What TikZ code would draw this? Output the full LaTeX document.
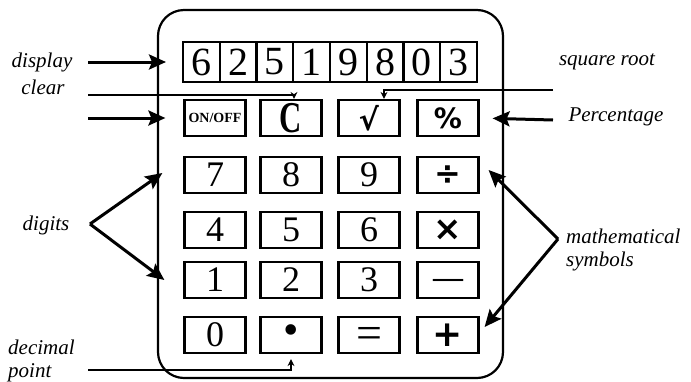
\documentclass[tikz,border=0pt]{standalone}
\usepackage{amsmath,amsfonts,graphicx}
\usepackage{xcolor}
\usepackage{fontspec}
\setmainfont{Liberation Serif}
\newfontfamily\symfont{DejaVu Sans}
\usepackage{tikz}
\usetikzlibrary{shapes.geometric, arrows.meta}
\tikzstyle{calcbody} = [rectangle, rounded corners=26pt, minimum width=345pt, minimum height=368pt, draw=black, line width=2.2pt]
\tikzstyle{cell} = [rectangle, minimum width=36.75pt, minimum height=40pt, inner sep=0pt, draw=black, line width=2pt, font=\fontsize{40}{40}\selectfont]
\tikzstyle{key} = [rectangle, minimum width=61pt, minimum height=36pt, inner sep=0pt, draw=black, line width=2.2pt, font=\fontsize{36}{36}\selectfont]
\tikzstyle{symkey} = [key, font=\symfont\bfseries\fontsize{28}{28}\selectfont]
\tikzstyle{lbl} = [inner sep=0pt, font=\itshape\fontsize{21}{23}\selectfont]
\tikzset{
  arrow/.style={line width=3pt, -{Stealth[length=17pt,width=15pt,inset=3pt]}},
  thinarrow/.style={line width=2.2pt, -{Stealth[length=7pt,width=7pt]}},
}

\begin{document}
\begin{tikzpicture}[x=1pt, y=-1pt]
\useasboundingbox (0,0) rectangle (691,381);
\node (body) [calcbody] at (330.5,194) {};

% display
\node (d1) [cell] at (201.4,62) {6};
\node (d2) [cell] at (238.1,62) {2};
\node (d3) [cell] at (274.9,62) {5};
\node (d4) [cell] at (311.6,62) {1};
\node (d5) [cell] at (348.4,62) {9};
\node (d6) [cell] at (385.1,62) {8};
\node (d7) [cell] at (421.9,62) {0};
\node (d8) [cell] at (458.6,62) {3};

% keys
\node (onoff) [key] at (215,118) {\bfseries\fontsize{14}{14}\selectfont ON/OFF};
\node (clr) [key] at (291,118) {\bfseries\scalebox{0.7}[1]{\fontsize{44}{44}\selectfont C}};
\node (sqrt) [symkey] at (369,118) {\fontsize{30}{30}\selectfont √};
\node (pct) [symkey] at (448,118) {\%};
\node (seven) [key] at (215,175) {7};
\node (eight) [key] at (291,175) {8};
\node (nine) [key] at (369,175) {9};
\node (div) [symkey] at (448,175) {\fontsize{32}{32}\selectfont ÷};
\node (four) [key] at (215,230) {4};
\node (five) [key] at (291,230) {5};
\node (six) [key] at (369,230) {6};
\node (times) [symkey] at (448,230) {\fontsize{34}{34}\selectfont ×};
\node (one) [key] at (215,280) {1};
\node (two) [key] at (291,280) {2};
\node (three) [key] at (369,280) {3};
\node (minus) [key] at (448,280) {\raisebox{-7pt}[0pt][0pt]{\bfseries\fontsize{30}{30}\selectfont —}};
\node (zero) [key] at (215,335) {0};
\node (point) [key] at (291,335) {\fontsize{44}{44}\selectfont •};
\node (equals) [key] at (369,335) {\raisebox{-13pt}[0pt][0pt]{\fontsize{46}{46}\selectfont =}};
\node (plus) [symkey] at (448,335) {\fontsize{36}{36}\selectfont +};

% labels
\node (display) [lbl] at (42,62) {display};
\node (clear) [lbl] at (43,87) {clear};
\node (sqroot) [lbl] at (607,62) {square root};
\node (percent) [lbl] at (616,117) {Percentage};
\node (digits) [lbl] at (46,225) {digits};
\node (mathsym) [lbl, anchor=west, align=left] at (566,250) {mathematical\\symbols};
\node (decimal) [lbl, anchor=west, align=left] at (8,361) {decimal\\point};

\coordinate (dispstart) at (88,62);
\coordinate (clearstart) at (88,95);
\coordinate (onoffstart) at (88,118);
\coordinate (sqrtstart) at (553,90);
\coordinate (pctstart) at (553,120);
\coordinate (digapex) at (90,224);
\coordinate (mathapex) at (558,239);
\coordinate (decstart) at (88,370);

\draw [arrow, shorten >=16pt] (dispstart) -- (d1.west);
\draw [thinarrow] (clearstart) -| ([xshift=3pt]clr.north);
\draw [arrow, shorten >=18pt] (onoffstart) -- (onoff.west);
\draw [thinarrow] (sqrtstart) -| ([xshift=15pt]sqrt.north);
\draw [arrow, shorten >=13pt] (pctstart) -- (pct.east);
\draw [arrow] (digapex) -- ([xshift=-21pt,yshift=2pt]seven.west);
\draw [arrow] (digapex) -- ([xshift=-19pt]one.west);
\draw [arrow] (mathapex) -- ([xshift=9pt,yshift=5pt]div.east);
\draw [arrow] (mathapex) -- ([xshift=5pt,yshift=8pt]plus.east);
\draw [thinarrow, shorten >=5pt] (decstart) -| (point.south);
\end{tikzpicture}
\end{document}
